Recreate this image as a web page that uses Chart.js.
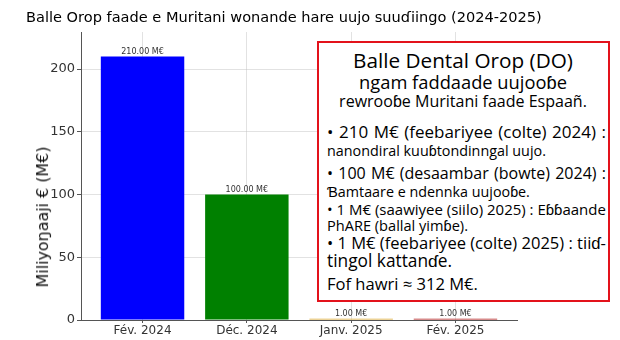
<!DOCTYPE html>
<html>
<head>
<meta charset="utf-8">
<script src="https://cdn.jsdelivr.net/npm/chart.js@4"></script>
<style>
  body { margin: 0; background: #fff; }
  #wrap { position: relative; width: 620px; height: 340px; overflow: hidden; }
  .txt { position: absolute; white-space: nowrap; line-height: 1; color: #000; }
  #note {
    position: absolute; left: 317px; top: 41px; width: 289px; height: 257px;
    border: 2px solid #e3121b; background: #fff;
  }
</style>
</head>
<body>
<div id="wrap">
  <canvas id="chart" width="620" height="340"></canvas>
  <div id="note"></div>
</div>
<script>
const categories = ["Fév. 2024", "Déc. 2024", "Janv. 2025", "Fév. 2025"];
const amounts = [210, 100, 1, 1];
const barColors = ["#0000ff", "#008000", "#d9a62e", "#b01818"];
const yTicks = [0, 50, 100, 150, 200];

const chartTitle = "Balle Orop faade e Muritani wonande hare uujo suuɗiingo (2024-2025)";
const yTitle = "Miliyoŋaaji € (M€)";

// note box lines: [text, y center, width, font size, kind]
// kind: "head" centered, "justify" spread to width, "fit" scaled to width
const noteLines = [
  ["Balle Dental Orop (DO)", 60, 220, 21, "head"],
  ["ngam faddaade uujooɓe", 82, 208, 21, "head"],
  ["rewrooɓe Muritani faade Espaañ.", 101, 248, 17, "head"],
  ["• 210 M€ (feebariyee (colte) 2024) :", 131, 279, 17, "justify"],
  ["nanondiral kuuɓtondinngal uujo.", 151, 219, 15, "fit"],
  ["• 100 M€ (desaambar (bowte) 2024) :", 173, 279, 16, "justify"],
  ["Ɓamtaare e ndennka uujooɓe.", 192, 203, 15, "fit"],
  ["• 1 M€ (saawiyee (siilo) 2025) : Eɓɓaande", 209, 279, 16, "justify"],
  ["PhARE (ballal yimɓe).", 225, 141, 15, "fit"],
  ["• 1 M€ (feebariyee (colte) 2025) : tiiɗ-", 243, 279, 17, "justify"],
  ["tingol kattanɗe.", 261, 125, 16, "fit"],
  ["Fof hawri ≈ 312 M€.", 284, 151, 17, "fit"],
];

const wrap = document.getElementById("wrap");

// place a text; "fit" scales the font to the width, "justify" spreads the words
function placeText(text, x, y, width, size, opts) {
  const el = document.createElement("div");
  el.className = "txt";
  el.textContent = text;
  el.style.fontFamily = opts.font;
  el.style.fontSize = size + "px";
  if (opts.weight) el.style.fontWeight = opts.weight;
  if (opts.color) el.style.color = opts.color;
  wrap.appendChild(el);
  const w = el.getBoundingClientRect().width;
  if (!opts.justify || w > width) {
    el.style.fontSize = (size * width / w).toFixed(2) + "px";
  } else {
    const gaps = (text.match(/ /g) || []).length;
    if (gaps) el.style.wordSpacing = ((width - w) / gaps).toFixed(2) + "px";
  }
  el.style.left = x + "px";
  el.style.top = y + "px";
  let tf = opts.center ? "translate(-50%,-50%)" : "translate(0,-50%)";
  if (opts.rotate) tf += " rotate(-90deg)";
  el.style.transform = tf;
  return el;
}

placeText(chartTitle, 26, 17, 516, 14, { font: "'DejaVu Sans', sans-serif" });
placeText(yTitle, 43, 217, 141, 16, { font: "'DejaVu Sans', sans-serif", center: true, rotate: true, color: "#111" });

noteLines.forEach(([text, y, w, size, kind]) => {
  const head = kind === "head";
  placeText(text, head ? 463 : 327, y, w, size, {
    font: "'Open Sans', sans-serif",
    weight: head ? 500 : 400,
    center: head,
    justify: kind === "justify",
  });
});

const valueLabels = {
  id: "valueLabels",
  afterDatasetsDraw(chart) {
    const ctx = chart.ctx;
    const meta = chart.getDatasetMeta(0);
    ctx.save();
    ctx.font = "8px 'DejaVu Sans', sans-serif";
    ctx.fillStyle = "#333";
    ctx.textAlign = "center";
    ctx.textBaseline = "bottom";
    meta.data.forEach((bar, i) => {
      ctx.fillText(amounts[i].toFixed(2) + " M€", bar.x, bar.y - 1);
    });
    ctx.restore();
  },
};

new Chart(document.getElementById("chart"), {
  type: "bar",
  data: {
    datasets: [
      {
        data: amounts.map((v, i) => ({ x: i, y: v })),
        backgroundColor: barColors,
        borderWidth: 0,
        categoryPercentage: 1,
        barPercentage: 0.8,
      },
    ],
  },
  options: {
    responsive: false,
    animation: false,
    devicePixelRatio: 1,
    layout: { padding: { left: 0, top: 32, right: 103, bottom: 0 } },
    plugins: {
      legend: { display: false },
      tooltip: { enabled: false },
    },
    scales: {
      x: {
        type: "linear",
        min: -0.59,
        max: 3.59,
        offset: false,
        z: 1,
        afterFit: (s) => { s.height = 20; },
        afterBuildTicks: (s) => { s.ticks = categories.map((_, i) => ({ value: i })); },
        ticks: {
          callback: (v) => categories[v],
          color: "#333",
          font: { family: "'DejaVu Sans', sans-serif", size: 12 },
          padding: 1,
          maxRotation: 0,
        },
        grid: { offset: false, color: "rgba(190,190,190,0.45)", tickColor: "#555", tickLength: 3 },
        border: { color: "#555", width: 1 },
      },
      y: {
        min: 0,
        max: 229.5,
        z: 1,
        afterFit: (s) => { s.width = 81; },
        afterBuildTicks: (s) => { s.ticks = yTicks.map((v) => ({ value: v })); },
        ticks: {
          color: "#333",
          font: { family: "'DejaVu Sans', sans-serif", size: 13 },
          padding: 2,
        },
        grid: { color: "rgba(190,190,190,0.45)", tickColor: "#555", tickLength: 4 },
        border: { color: "#555", width: 1 },
      },
    },
  },
  plugins: [valueLabels],
});
</script>
</body>
</html>
